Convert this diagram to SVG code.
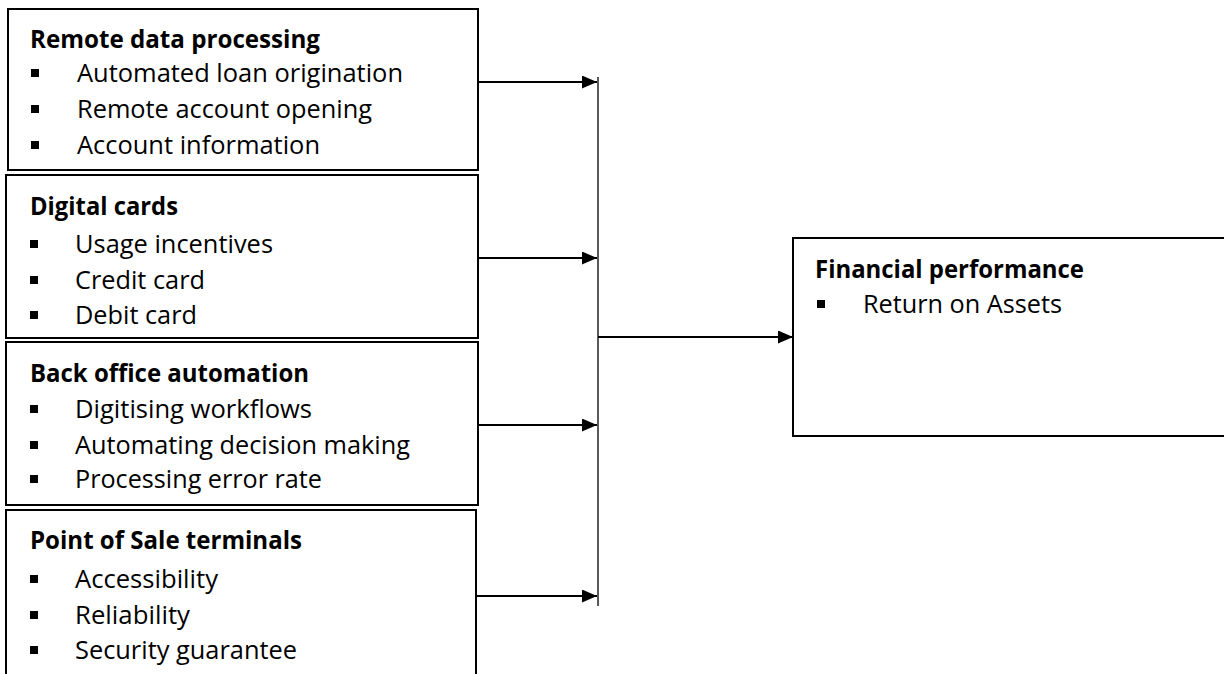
<svg xmlns="http://www.w3.org/2000/svg" width="1224" height="674" viewBox="0 0 1224 674">
<style>
.box{fill:#fff;stroke:#000;stroke-width:2}
.t{font-family:"Open Sans","Noto Sans","Liberation Sans",sans-serif;font-size:25px;fill:#000}
.b{font-weight:bold}
.bl{fill:#000}
.con{stroke:#000;stroke-width:2;fill:none}
.vl{stroke:#000;stroke-width:1.3;fill:none}
</style>
<defs>
<marker id="ah" markerUnits="userSpaceOnUse" markerWidth="15" markerHeight="13" refX="15" refY="6.5" orient="auto">
<path d="M0,0 L15,6.5 L0,13 z" fill="#000"/>
</marker>
</defs>
<rect width="1224" height="674" fill="#fff"/>
<g id="remote-data-processing">
<rect class="box" x="8" y="9" width="470" height="161"/>
<text class="t b" x="30" y="48" textLength="290" lengthAdjust="spacingAndGlyphs">Remote data processing</text>
<rect class="bl" x="31" y="69" width="8" height="8"/>
<text class="t" x="77" y="82" textLength="326" lengthAdjust="spacingAndGlyphs">Automated loan origination</text>
<rect class="bl" x="31" y="105" width="8" height="8"/>
<text class="t" x="77" y="118" textLength="295" lengthAdjust="spacingAndGlyphs">Remote account opening</text>
<rect class="bl" x="31" y="141" width="8" height="8"/>
<text class="t" x="77" y="154" textLength="243" lengthAdjust="spacingAndGlyphs">Account information</text>
</g>
<g id="digital-cards">
<rect class="box" x="6" y="175" width="472" height="163"/>
<text class="t b" x="30" y="215" textLength="148" lengthAdjust="spacingAndGlyphs">Digital cards</text>
<rect class="bl" x="30" y="240" width="8" height="8"/>
<text class="t" x="75" y="253" textLength="198" lengthAdjust="spacingAndGlyphs">Usage incentives</text>
<rect class="bl" x="30" y="276" width="8" height="8"/>
<text class="t" x="75" y="289" textLength="130" lengthAdjust="spacingAndGlyphs">Credit card</text>
<rect class="bl" x="30" y="311" width="8" height="8"/>
<text class="t" x="75" y="324" textLength="122" lengthAdjust="spacingAndGlyphs">Debit card</text>
</g>
<g id="back-office-automation">
<rect class="box" x="6" y="342" width="472" height="163"/>
<text class="t b" x="30" y="382" textLength="279" lengthAdjust="spacingAndGlyphs">Back office automation</text>
<rect class="bl" x="30" y="405" width="8" height="8"/>
<text class="t" x="75" y="418" textLength="237" lengthAdjust="spacingAndGlyphs">Digitising workflows</text>
<rect class="bl" x="30" y="441" width="8" height="8"/>
<text class="t" x="75" y="454" textLength="335" lengthAdjust="spacingAndGlyphs">Automating decision making</text>
<rect class="bl" x="30" y="475" width="8" height="8"/>
<text class="t" x="75" y="488" textLength="247" lengthAdjust="spacingAndGlyphs">Processing error rate</text>
</g>
<g id="point-of-sale-terminals">
<rect class="box" x="6" y="510" width="470" height="200"/>
<text class="t b" x="30" y="549" textLength="272" lengthAdjust="spacingAndGlyphs">Point of Sale terminals</text>
<rect class="bl" x="30" y="575" width="8" height="8"/>
<text class="t" x="75" y="588" textLength="143" lengthAdjust="spacingAndGlyphs">Accessibility</text>
<rect class="bl" x="30" y="611" width="8" height="8"/>
<text class="t" x="75" y="624" textLength="115" lengthAdjust="spacingAndGlyphs">Reliability</text>
<rect class="bl" x="30" y="646" width="8" height="8"/>
<text class="t" x="75" y="659" textLength="222" lengthAdjust="spacingAndGlyphs">Security guarantee</text>
</g>
<g id="financial-performance">
<rect class="box" x="793" y="238" width="450" height="198"/>
<text class="t b" x="815" y="278" textLength="269" lengthAdjust="spacingAndGlyphs">Financial performance</text>
<rect class="bl" x="817" y="300" width="8" height="8"/>
<text class="t" x="863" y="313" textLength="199" lengthAdjust="spacingAndGlyphs">Return on Assets</text>
</g>
<g id="connectors">
<line class="con" x1="478" y1="82" x2="597" y2="82" marker-end="url(#ah)"/>
<line class="con" x1="478" y1="258" x2="597" y2="258" marker-end="url(#ah)"/>
<line class="con" x1="478" y1="425" x2="597" y2="425" marker-end="url(#ah)"/>
<line class="con" x1="476" y1="596" x2="597" y2="596" marker-end="url(#ah)"/>
<line class="vl" x1="598" y1="77" x2="598" y2="606"/>
<line class="con" x1="598" y1="337" x2="793" y2="337" marker-end="url(#ah)"/>
</g>
</svg>
